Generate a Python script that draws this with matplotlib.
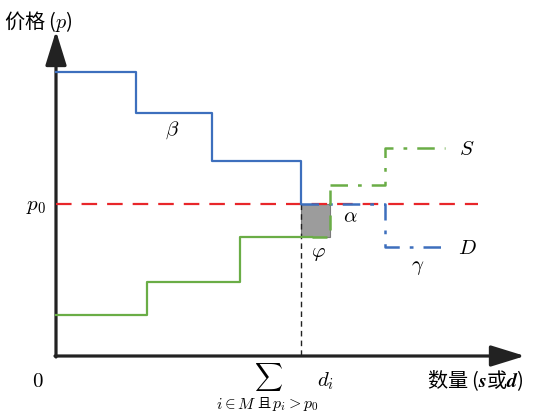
import matplotlib.pyplot as plt
from matplotlib.patches import Rectangle

plt.rcParams['font.family'] = ['Noto Sans CJK SC', 'DejaVu Sans']
plt.rcParams['mathtext.fontset'] = 'cm'

#%% data (schematic units: quantity q, price p)
p0 = 152
# demand curve D, solid part
d_q = [0, 80, 80, 156, 156, 245, 245]
d_p = [284, 284, 243, 243, 195, 195, 152]
# demand curve, dash-dot part
d2_q = [245, 329, 329, 387]
d2_p = [152, 152, 109, 109]
# supply curve S, solid part
s_q = [0, 91, 91, 184, 184, 256]
s_p = [41, 41, 74, 74, 119, 119]
# supply, dashed join + dash-dot part
s2_q = [256, 274, 274]
s2_p = [119, 119, 171]
s3_q = [274, 329, 329, 389]
s3_p = [171, 171, 208, 208]
# shaded block phi
phi_q = (245, 274)
phi_p = (119, 152)

blue = '#3d6fbd'
green = '#6aad46'
red = '#e8262a'

#%% figure
fig = plt.figure(figsize=(5.33, 4.14), dpi=100)
ax = fig.add_axes([0, 0, 1, 1])
ax.set_xlim(-56, 477)
ax.set_ylim(-57, 357)
ax.axis('off')

# axes with arrows
arr = dict(arrowstyle='-|>,head_length=2.1,head_width=0.65', lw=2.3,
           color='#222222', mutation_scale=10, shrinkA=0, shrinkB=0)
ax.annotate('', xy=(0, 325), xytext=(0, -1), arrowprops=arr)
ax.annotate('', xy=(469, 0), xytext=(-1, 0), arrowprops=arr)

ax.add_patch(Rectangle((phi_q[0], phi_p[0]), phi_q[1] - phi_q[0], phi_p[1] - phi_p[0],
                       facecolor='#9c9c9c', edgecolor='#7a7a7a', lw=0.8, zorder=2))

ax.plot([0, 422], [p0, p0], color=red, lw=1.6, dashes=(7, 4.5), zorder=3)
ax.plot([245, 245], [p0, 0], color='#222222', lw=1.0, dashes=(4, 3), zorder=3)

ax.plot(d_q, d_p, color=blue, lw=1.6, zorder=4)
ax.plot(d2_q, d2_p, color=blue, lw=1.8, dashes=(7, 4, 1.5, 4), zorder=4)
ax.plot(s_q, s_p, color=green, lw=1.6, zorder=4)
ax.plot(s2_q, s2_p, color=green, lw=1.8, dashes=(6, 4), zorder=4)
ax.plot(s3_q, s3_p, color=green, lw=1.8, dashes=(7, 4, 1.5, 4), zorder=4)

# labels
ax.text(-52, 336, '价格 ($p$)', fontsize=14.5, va='center', ha='left')
ax.text(-20, p0, '$p_0$', fontsize=15, va='center', ha='center')
ax.text(-18, -24, '$0$', fontsize=15, va='center', ha='center')
ax.text(116, 227, r'$\beta$', fontsize=15, va='center', ha='center')
ax.text(294, 141, r'$\alpha$', fontsize=15, va='center', ha='center')
ax.text(262, 105, r'$\varphi$', fontsize=15, va='center', ha='center')
ax.text(362, 91, r'$\gamma$', fontsize=15, va='center', ha='center')
ax.text(411, 208, '$S$', fontsize=15, va='center', ha='center')
ax.text(411, 109, '$D$', fontsize=15, va='center', ha='center')
ax.text(371, -24, '数量 ($\\boldsymbol{s}$或$\\boldsymbol{d}$)', fontsize=14.5,
        va='center', ha='left')
ax.text(212, -36, r'$\sum$', fontsize=14, va='bottom', ha='center')
ax.text(270, -24, '$d_i$', fontsize=15, va='center', ha='center')
ax.text(200, -48, r'$i\in M$', fontsize=11.5, va='center', ha='right')
ax.text(208, -48, '且', fontsize=9.5, va='center', ha='center')
ax.text(216, -48, '$p_i>p_0$', fontsize=11.5, va='center', ha='left')

fig.savefig('out.png', dpi=100)
